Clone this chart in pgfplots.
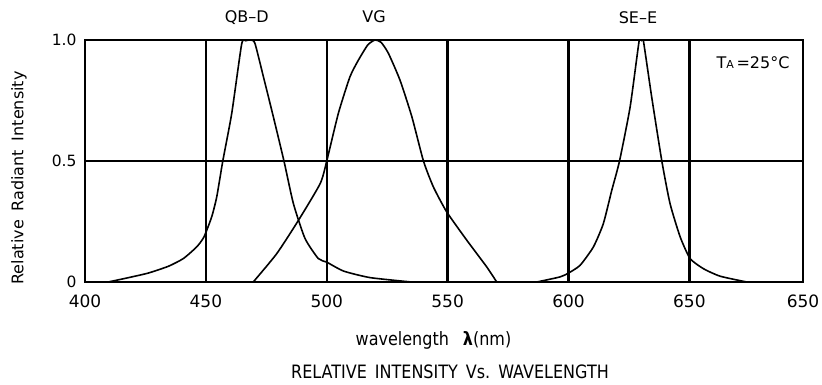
\documentclass[border=0pt]{standalone}
\usepackage{pgfplots}
\pgfplotsset{compat=1.18}
\usepackage{fontspec}
\setmainfont{DejaVu Sans}

\begin{document}
\begin{tikzpicture}[x=1pt,y=1pt]
\useasboundingbox (0,0) rectangle (822,385);
\begin{axis}[
  at={(85pt,103pt)}, anchor=south west,
  width=718pt, height=242pt, scale only axis,
  xmin=400, xmax=697, ymin=0, ymax=1,
  xtick={400,450,500,550,600,650,697},
  xticklabels={400,450,500,550,600,650,650},
  ytick={0,0.5,1}, yticklabels={0,0.5,1.0},
  grid=major,
  major grid style={black, line width=2.3pt},
  axis line style={black, line width=2.1pt},
  major tick length=0pt,
  xticklabel style={font=\fontsize{17}{19}\selectfont, yshift=-9pt},
  yticklabel style={font=\fontsize{15.5}{17}\selectfont, xshift=-5pt},
]
% QB-D
\addplot[black, line width=1.6pt, smooth, tension=0.35, no marks] coordinates {
(409.6,0) (418,0.018) (426.2,0.037) (434.5,0.065) (440.7,0.097) (446.2,0.145)
(449.2,0.186) (452.4,0.269) (454.5,0.352) (457.0,0.5) (460.7,0.697) (464.8,0.983)
(466.5,0.997) (468.6,1.0) (470.3,0.986) (473.8,0.848) (477.9,0.683) (482.3,0.5)
(486.2,0.324) (491.0,0.18) (496.5,0.097) (500,0.082) (507,0.045) (518,0.018) (535,0)
};
% VG
\addplot[black, line width=1.6pt, smooth, tension=0.35, no marks] coordinates {
(469.6,0) (479.3,0.117) (488.3,0.255) (497.3,0.407) (500,0.5) (504.8,0.697)
(509.6,0.848) (513.1,0.917) (517,0.98) (520,1.0) (522.5,0.99) (525.5,0.945)
(530.3,0.834) (535.2,0.683) (540,0.5) (544.1,0.393) (549.6,0.29) (557.9,0.173)
(566.2,0.062) (570.3,0)
};
% SE-E
\addplot[black, line width=1.6pt, smooth, tension=0.35, no marks] coordinates {
(586.9,0) (596.5,0.021) (600,0.037) (604.8,0.069) (610.3,0.145) (614.4,0.241)
(617.9,0.379) (621.1,0.5) (625.5,0.724) (629.2,0.995) (630.2,1.0) (631,0.995)
(634.4,0.765) (638.6,0.5) (642,0.324) (646.2,0.186) (650.3,0.097) (655.8,0.055)
(662.7,0.024) (673.7,0)
};
\end{axis}
\begin{scope}[every node/.style={font=\fontsize{16}{19}\selectfont, inner sep=0pt}]
\node at (246.7,367) {QB–D};
\node at (374,368) {VG};
\node at (638,367) {SE–E};
\node at (753,322.5) {T{\fontsize{11}{12}\selectfont A}\,=25°C};
\node[rotate=90] at (19,207) {Relative\hspace{0.55em}Radiant\hspace{0.55em}Intensity};
\node[yscale=1.15, transform shape] at (433.5,45) {wavelength\hspace{14pt}{\bfseries λ}(nm)};
\node[yscale=1.15, transform shape] at (450,13) {RELATIVE\hspace{0.5em}INTENSITY\hspace{0.5em}Vs.\hspace{0.5em}WAVELENGTH};
\end{scope}
\end{tikzpicture}
\end{document}
